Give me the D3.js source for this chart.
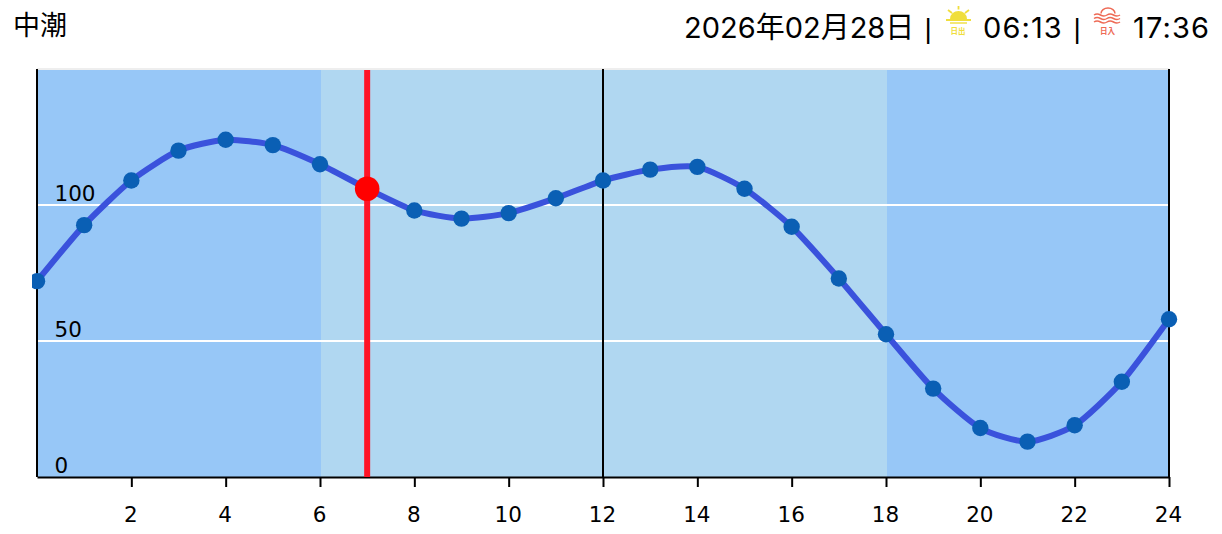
<!DOCTYPE html>
<html><head><meta charset="utf-8">
<script src="https://cdn.jsdelivr.net/npm/d3@7/dist/d3.min.js"></script>
<style>html,body{margin:0;background:#fff}svg{display:block}</style></head>
<body><svg id="c" width="1222" height="534"></svg>
<script>
const hours=[0,1,2,3,4,5,6,7,8,9,10,11,12,13,14,15,16,17,18,19,20,21,22,23,24];
const tide=[72,92.6,109,120,124,122,115,106,98,95,97,102.5,109,113,114,106,92,73,52.5,32.5,18,13,19,35,58];
const xTicks=[2,4,6,8,10,12,14,16,18,20,22,24];
const yTicks=[0,50,100];
const dayBand=[6,18];
const nowHour=7;
const blackLines=[0,12,24];
const title="中潮", dateText="2026年02月28日", riseText="06:13", setText="17:36";

const svg=d3.select("#c");
const x=d3.scaleLinear().domain([0,24]).range([37,1169]);
const y=d3.scaleLinear().domain([0,150]).range([477,69]);
const sans="Inter,'Noto Sans CJK JP',sans-serif";
const axisFont="'DejaVu Sans',sans-serif";
const plotTop=y(150)+1;

svg.append("rect").attr("x",x(0)).attr("y",plotTop).attr("width",x(24)-x(0)).attr("height",y(0)-plotTop).attr("fill","#97c7f7");
svg.append("rect").attr("x",x(dayBand[0])+1).attr("y",plotTop).attr("width",x(dayBand[1])-x(dayBand[0])).attr("height",y(0)-plotTop).attr("fill","#b0d7f1");
svg.append("line").attr("x1",x(0)).attr("x2",x(24)).attr("y1",plotTop-1).attr("y2",plotTop-1).attr("stroke","#eeeeee").attr("stroke-width",2);

svg.selectAll(".g").data(yTicks.filter(d=>d>0)).join("line")
 .attr("x1",x(0)).attr("x2",x(24)).attr("y1",d=>y(d)).attr("y2",d=>y(d)).attr("stroke","#fff").attr("stroke-width",1.8);
svg.selectAll(".v").data(blackLines).join("line")
 .attr("x1",d=>x(d)).attr("x2",d=>x(d)).attr("y1",y(150)).attr("y2",y(0)).attr("stroke","#000").attr("stroke-width",2);

const xAxis=d3.axisBottom(x).tickValues(xTicks).tickSize(10).tickSizeOuter(0);
const gx=svg.append("g").attr("transform",`translate(0,${y(0)})`).call(xAxis);
gx.select(".domain").attr("stroke","#000").attr("stroke-width",2);
gx.selectAll(".tick line").attr("stroke","#000").attr("stroke-width",2);
gx.selectAll(".tick text").attr("x",-1).attr("y",45).attr("dy",0).attr("font-family",axisFont).attr("font-size",21.5).attr("fill","#000");

svg.selectAll(".yl").data(yTicks).join("text").text(d=>d)
 .attr("x",54.5).attr("y",d=>y(d)-4).attr("font-family",axisFont).attr("font-size",21.5).attr("fill","#000");

svg.append("line").attr("x1",x(nowHour)).attr("x2",x(nowHour)).attr("y1",plotTop).attr("y2",y(0)).attr("stroke","#ff1326").attr("stroke-width",6);

const line=d3.line().x((d,i)=>x(hours[i])).y(d=>y(d)).curve(d3.curveCardinal.tension(0.35));
svg.append("path").attr("d",line(tide)).attr("fill","none").attr("stroke","#3a52dc").attr("stroke-width",6).attr("stroke-linejoin","round");

svg.append("clipPath").attr("id","cp").append("rect").attr("x",x(0)-5).attr("y",0).attr("width",x(24)-x(0)+20).attr("height",534);
svg.append("g").attr("clip-path","url(#cp)").selectAll("circle").data(tide.map((v,i)=>[hours[i],v]).filter(d=>d[0]!==nowHour)).join("circle")
 .attr("cx",d=>x(d[0])).attr("cy",d=>y(d[1])).attr("r",8.2).attr("fill","#0a5fb4");
svg.append("circle").attr("cx",x(nowHour)).attr("cy",y(tide[hours.indexOf(nowHour)])).attr("r",12.3).attr("fill","#ff0000");

svg.append("text").text(title).attr("x",13).attr("y",35).attr("font-family","'Noto Sans CJK JP'").attr("font-size",27).attr("fill","#000");
const hdr=[[dateText,684,0],[riseText,983,1.1],[setText,1133,1.1]];
svg.selectAll(".h").data(hdr).join("text").text(d=>d[0]).attr("x",d=>d[1]).attr("y",38).attr("letter-spacing",d=>d[2])
 .attr("font-family",sans).attr("font-size",29).attr("fill","#000");
svg.selectAll(".sep").data([924.4,1073.4]).join("text").text("|").attr("x",d=>d).attr("y",38)
 .attr("font-family","'Liberation Sans'").attr("font-size",28).attr("fill","#000");

// sunrise icon
const sun=svg.append("g").attr("fill","#f0de3c").attr("stroke","#f0de3c");
sun.append("path").attr("d","M950 19 A8.5 8 0 0 1 967 19 Z").attr("stroke","none");
sun.append("line").attr("x1",946).attr("x2",971).attr("y1",20).attr("y2",20).attr("stroke-width",2);
sun.append("line").attr("x1",950).attr("x2",967).attr("y1",23).attr("y2",23).attr("stroke-width",1.4);
[[958.5,6,958.5,9.5],[948,10,952,13],[969,10,965,13]].forEach(a=>sun.append("line").attr("x1",a[0]).attr("y1",a[1]).attr("x2",a[2]).attr("y2",a[3]).attr("stroke-width",1.8));
svg.append("text").text("日出").attr("x",958).attr("y",34).attr("text-anchor","middle").attr("font-family","'Noto Sans CJK JP'").attr("font-weight",700).attr("font-size",7.5).attr("fill","#f0de3c");
// sunset icon
const st=svg.append("g").attr("fill","none").attr("stroke","#ee6a55").attr("stroke-width",1.5);
st.append("path").attr("d","M1101 13.5 A7 5.5 0 0 1 1115 13.5");
[15,18.5,22].forEach(v=>st.append("path").attr("d",`M1094 ${v} q3 -2 6.5 0 t6.5 0 t6.5 0 t6.5 0`));
svg.append("text").text("日入").attr("x",1107.5).attr("y",34).attr("text-anchor","middle").attr("font-family","'Noto Sans CJK JP'").attr("font-weight",700).attr("font-size",7.5).attr("fill","#ee6a55");
</script></body></html>
